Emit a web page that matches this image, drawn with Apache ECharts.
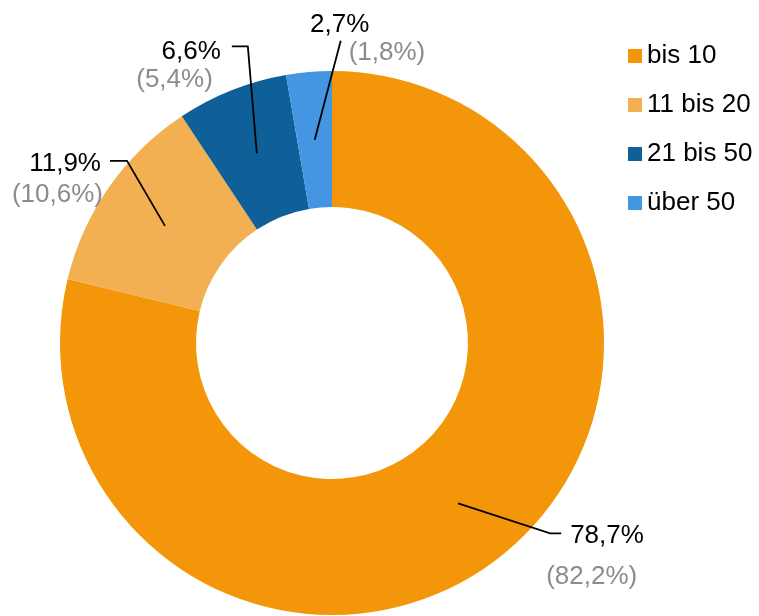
<!DOCTYPE html>
<html><head><meta charset="utf-8">
<script src="https://cdn.jsdelivr.net/npm/echarts@6/dist/echarts.min.js"></script>
<style>html,body{margin:0;padding:0;background:#fff}#c{width:759px;height:616px}</style>
</head><body><div id="c"></div>
<script>
// ---- data ----
const categories = ['bis 10', '11 bis 20', '21 bis 50', 'über 50'];
const shareMain = [78.7, 11.9, 6.6, 2.7];   // black labels
const sharePrev = [82.2, 10.6, 5.4, 1.8];   // grey labels in brackets
const colors = ['#F39609', '#F3B052', '#0F6098', '#4596E2'];

// ---- layout ----
const CX = 332, CY = 343, R_IN = 136, R_OUT = 272, R_MID = (R_IN + R_OUT) / 2;
const FONT = "'Liberation Sans', Arial, sans-serif";
const TEXT_DY = 3;
// leader-line / label offsets per slice, relative to the mid-ring anchor
const guides = [
  { elbow: [92, 30],   tail: 11,  main: { dx: 9,  dy: 0,   align: 'left' },   prev: { dx: -15, dy: 41, align: 'left' } },
  { elbow: [-38, -65], tail: -17, main: { dx: -9, dy: 0,   align: 'right' },  prev: { dx: -7,  dy: 31, align: 'right' } },
  { elbow: [-9, -107], tail: -16, main: { dx: -11, dy: 2,  align: 'right' },  prev: { dx: -19, dy: 30, align: 'right' } },
  { elbow: [26, -99],  tail: 0,   main: { dx: -1, dy: -19, align: 'center' }, prev: { dx: 8,   dy: 9,  align: 'left' } }
];

const fmt = v => v.toFixed(1).replace('.', ',') + '%';
const total = shareMain.reduce((a, b) => a + b, 0);
function anchor(i) {
  let cum = 0;
  for (let k = 0; k < i; k++) cum += shareMain[k];
  const th = 2 * Math.PI * (cum + shareMain[i] / 2) / total;
  return [CX + R_MID * Math.sin(th), CY - R_MID * Math.cos(th)];
}
function geom(i) {
  const p0 = anchor(i), g = guides[i];
  const p1 = [p0[0] + g.elbow[0], p0[1] + g.elbow[1]];
  const p2 = [p1[0] + g.tail, p1[1]];
  return { p0, p1, p2 };
}

const mainData = categories.map((n, i) => ({ name: n, value: shareMain[i], itemStyle: { color: colors[i] } }));
const overlayData = categories.map((n, i) => ({ name: n, value: shareMain[i] }));

const basePie = {
  type: 'pie',
  center: [CX, CY],
  radius: [R_IN, R_OUT],
  startAngle: 90,
  clockwise: true,
  avoidLabelOverlap: false,
  silent: true
};

const chart = echarts.init(document.getElementById('c'), null, { renderer: 'canvas' });
chart.setOption({
  backgroundColor: '#fff',
  animation: false,
  legend: {
    data: categories,
    orient: 'vertical',
    left: 628, top: 43, padding: 0,
    icon: 'rect', itemWidth: 14, itemHeight: 14, itemGap: 23,
    selectedMode: false,
    textStyle: { fontFamily: FONT, fontSize: 26, color: '#000', lineHeight: 26 }
  },
  series: [
    Object.assign({}, basePie, {
      z: 2,
      data: mainData,
      label: { show: false },
      labelLine: { show: false }
    }),
    Object.assign({}, basePie, {
      z: 5,
      data: overlayData,
      itemStyle: { color: 'rgba(0,0,0,0)' },
      label: {
        show: true, position: 'outside',
        formatter: p => fmt(shareMain[p.dataIndex]),
        fontFamily: FONT, fontSize: 26, color: '#000'
      },
      labelLine: { show: true, lineStyle: { color: '#000', width: 1.8 } },
      labelLayout: p => {
        const i = p.dataIndex, g = geom(i), m = guides[i].main;
        return {
          x: g.p2[0] + m.dx, y: g.p2[1] + m.dy + TEXT_DY,
          align: m.align, verticalAlign: 'middle',
          labelLinePoints: [g.p0, g.p1, g.p2]
        };
      }
    }),
    Object.assign({}, basePie, {
      z: 5,
      data: overlayData,
      itemStyle: { color: 'rgba(0,0,0,0)' },
      label: {
        show: true, position: 'outside',
        formatter: p => '(' + fmt(sharePrev[p.dataIndex]) + ')',
        fontFamily: FONT, fontSize: 26, color: '#8C8C8C'
      },
      labelLine: { show: false },
      labelLayout: p => {
        const i = p.dataIndex, g = geom(i), s = guides[i].prev;
        return { x: g.p2[0] + s.dx, y: g.p2[1] + s.dy + TEXT_DY, align: s.align, verticalAlign: 'middle' };
      }
    })
  ]
});
</script>
</body></html>
